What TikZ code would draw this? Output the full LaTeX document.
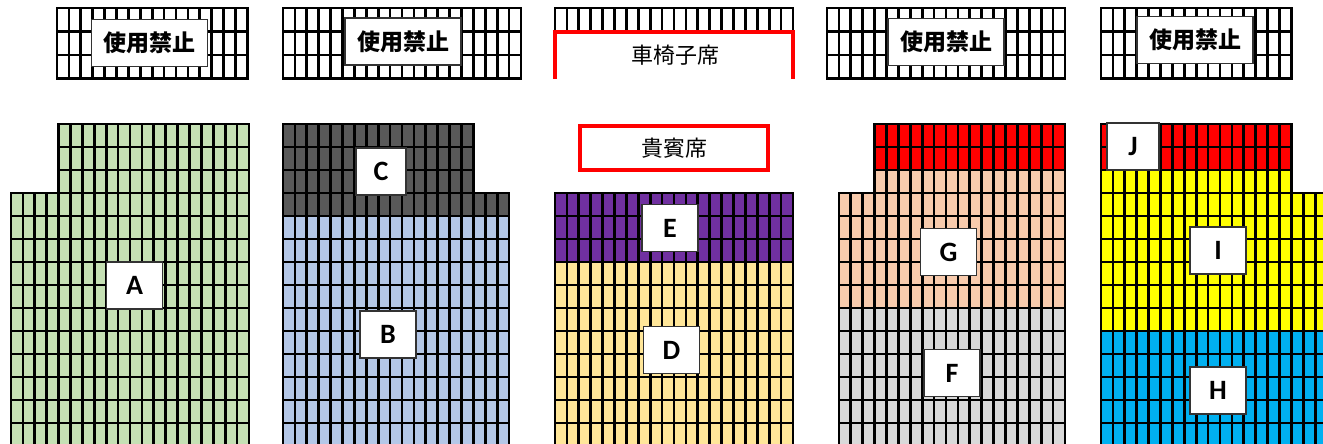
\documentclass[tikz,border=0pt]{standalone}
\usepackage{fontspec}
\newfontfamily\cjkfont{Noto Sans CJK JP}
\newfontfamily\latfont{Carlito}
\definecolor{cA}{HTML}{C5E0B4}
\definecolor{cC}{HTML}{595959}
\definecolor{cB}{HTML}{B4C7E7}
\definecolor{cE}{HTML}{7030A0}
\definecolor{cD}{HTML}{FFE699}
\definecolor{cR}{HTML}{FF0000}
\definecolor{cG}{HTML}{F8CBAD}
\definecolor{cF}{HTML}{D9D9D9}
\definecolor{cI}{HTML}{FFFF00}
\definecolor{cH}{HTML}{00B0F0}
\def\cw{11.9}
\newcommand\seatblock[6]{%
  \fill[#6] (#1,#2) rectangle ({#1+#3*\cw},{#2+#4*#5});
  \foreach \i in {0,...,#3}{\draw[gridline] ({#1+\i*\cw},#2) -- ({#1+\i*\cw},{#2+#4*#5});}
  \foreach \j in {0,...,#4}{\draw[gridline] (#1,{#2+\j*#5}) -- ({#1+#3*\cw},{#2+\j*#5});}
}
\tikzset{
  gridline/.style={line width=2.7pt, black, line cap=rect},
  lbl/.style={draw=black!80, line width=1.8pt, fill=white, inner sep=0pt},
  ban/.style={lbl, minimum width=116pt, minimum height=47pt, font={\cjkfont\bfseries\fontsize{23}{23}\selectfont}},
  letter/.style={lbl, minimum width=56pt, minimum height=47pt, font={\latfont\bfseries\fontsize{28}{28}\selectfont}},
  redline/.style={draw=cR, line width=4pt},
  redtext/.style={font={\cjkfont\fontsize{22}{22}\selectfont}, inner sep=0pt}
}
\begin{document}
\begin{tikzpicture}[x=1pt,y=-1pt]
\useasboundingbox (0,0) rectangle (1323,444);
\clip (0,0) rectangle (1323,444);
\fill[white] (0,0) rectangle (1323,444);
% ---- top grids ----
\seatblock{57}{8}{16}{3}{23.5}{white}
\seatblock{283}{8}{20}{3}{23.5}{white}
\seatblock{555}{8}{20}{1}{23.5}{white}
\seatblock{827}{8}{20}{3}{23.5}{white}
\seatblock{1101}{8}{16}{3}{23.5}{white}
% ---- section A ----
\seatblock{58.6}{124}{16}{3}{23}{cA}
\seatblock{11}{193}{20}{11}{23}{cA}
% ---- section B / C ----
\seatblock{283}{124}{16}{3}{23}{cC}
\seatblock{283}{193}{19}{1}{23}{cC}
\seatblock{283}{216}{19}{10}{23}{cB}
% ---- section E / D ----
\seatblock{555}{193}{20}{3}{23}{cE}
\seatblock{555}{262}{20}{8}{23}{cD}
% ---- section G / F ----
\seatblock{874.6}{124}{16}{2}{23}{cR}
\seatblock{874.6}{170}{16}{1}{23}{cG}
\seatblock{838.9}{193}{19}{5}{23}{cG}
\seatblock{838.9}{308}{19}{7}{23}{cF}
% ---- section J / I / H ----
\seatblock{1101}{124}{16}{2}{23}{cR}
\seatblock{1101}{170}{16}{1}{23}{cI}
\seatblock{1101}{193}{19}{6}{23}{cI}
\seatblock{1101}{331}{19}{6}{23}{cH}
% ---- wheelchair and guest seats ----
\coordinate (wc1) at (555,79);
\coordinate (wc2) at (555,32);
\coordinate (wc3) at (793,32);
\coordinate (wc4) at (793,79);
\fill[white] (wc2) rectangle (wc4);
\draw[redline] (wc1) -- (wc2) -- (wc3) -- (wc4);
\node[redtext] (wheel) at (675,55) {車椅子席};
\node[redline, minimum width=188pt, minimum height=44pt, inner sep=0pt, font={\cjkfont\fontsize{22}{22}\selectfont}] (guest) at (674,148) {貴賓席};
% ---- labels ----
\node[ban] (banA) at (149.5,43) {使用禁止};
\node[ban] (banB) at (403,41.5) {使用禁止};
\node[ban] (banG) at (946,42) {使用禁止};
\node[ban] (banI) at (1195,40) {使用禁止};
\node[letter] (labA) at (134.5,285.5) {A};
\node[letter] (labB) at (388,334.5) {B};
\node[letter, minimum width=50pt] (labC) at (381,171.5) {C};
\node[letter] (labE) at (670,228) {E};
\node[letter] (labD) at (671.5,350) {D};
\node[letter] (labG) at (948.5,252) {G};
\node[letter] (labF) at (952,373) {F};
\node[letter] (labI) at (1218,250.5) {I};
\node[letter] (labH) at (1218,390.5) {H};
\node[letter, minimum width=52pt] (labJ) at (1133,146.5) {J};
\end{tikzpicture}
\end{document}
